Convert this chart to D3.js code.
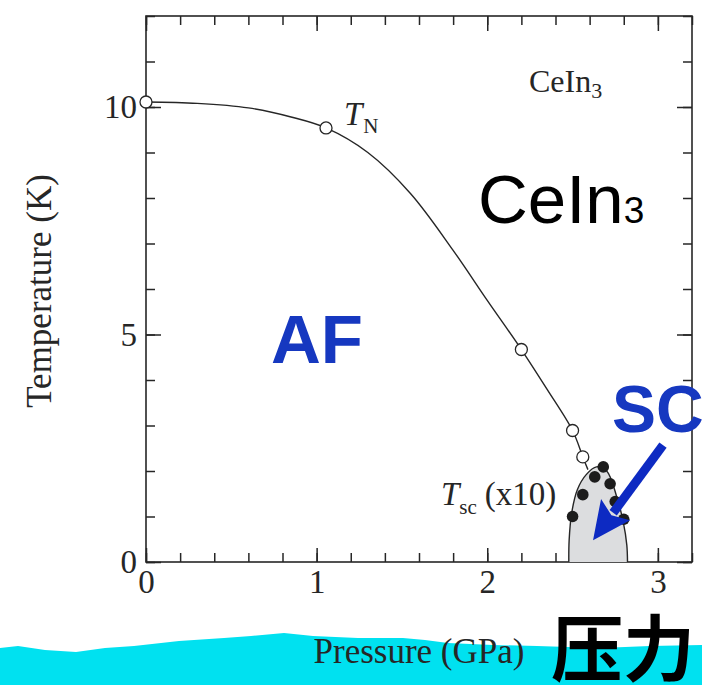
<!DOCTYPE html>
<html>
<head>
<meta charset="utf-8">
<script src="https://cdn.jsdelivr.net/npm/d3@7"></script>
<style>
  html, body { margin: 0; padding: 0; background: #fff; }
  svg { display: block; }
</style>
</head>
<body>
<svg id="chart" width="702" height="685"></svg>
<script>
// ---------- data ----------
const pressureTN = [0, 1.055, 2.2, 2.5, 2.56];          // GPa, open circles
const tempTN     = [10.11, 9.54, 4.67, 2.89, 2.31];     // K
const curveP     = [0, 0.3, 0.6, 0.85, 1.055, 1.3, 1.55, 1.8, 2.0, 2.2, 2.35, 2.5, 2.56, 2.59];
const curveT     = [10.11, 10.08, 9.98, 9.78, 9.54, 9.0, 8.1, 6.85, 5.75, 4.67, 3.8, 2.89, 2.31, 2.03];
const pressureSC = [2.50, 2.56, 2.63, 2.68, 2.72, 2.75, 2.80];   // filled dots
const tempSC     = [1.00, 1.48, 1.87, 2.09, 1.72, 1.33, 0.94];   // Tsc x10 (K)
const domeP      = [2.478, 2.48, 2.495, 2.528, 2.58, 2.64, 2.70, 2.76, 2.797, 2.818, 2.822];
const domeT      = [0, 0.48, 1.08, 1.59, 1.92, 2.09, 2.0, 1.42, 0.88, 0.37, 0];
const xMajorTicks = [0, 1, 2, 3];
const yMajorTicks = [0, 5, 10];
const xMinorTicks = d3.range(0, 3.21, 0.2);
const yMinorTicks = d3.range(0, 12.1, 1);
// decorative brush band top edge (pixels)
const bandEdge = [[0,648],[18,646],[45,650],[76,652],[105,648],[134,646],[179,641],[224,638],[251,636],[284,633],[313,636],[358,638],[403,638],[425,640],[448,643],[493,645],[537,646],[600,648],[650,646],[702,645]];

// ---------- layout ----------
const svg = d3.select("#chart");
const x = d3.scaleLinear().domain([0, 3.2]).range([146, 692]);
const y = d3.scaleLinear().domain([0, 12]).range([562, 16]);
const ink = "#262626";
const serif = "'Liberation Serif', 'Times New Roman', serif";
const sans = "'Liberation Sans', Arial, Helvetica, sans-serif";
const blue = "#1638c0";

// cyan band
svg.append("path")
  .attr("d", "M0,685 L" + bandEdge.map(p => p.join(",")).join(" L") + " L702,685 Z")
  .attr("fill", "#00e1f0");

// axes helper
function styleAxis(g) {
  g.select(".domain").remove();
  g.selectAll("line").attr("stroke", ink).attr("stroke-width", 1.5);
}
// bottom
svg.append("g").attr("transform", "translate(0,562)")
  .call(d3.axisBottom(x).tickValues(xMinorTicks).tickSize(-9).tickFormat(""))
  .call(styleAxis);
svg.append("g").attr("transform", "translate(0,562)")
  .call(d3.axisBottom(x).tickValues(xMajorTicks).tickSize(-14).tickPadding(8).tickFormat(d3.format("d")))
  .call(styleAxis)
  .call(g => g.selectAll("text").attr("font-family", serif).attr("font-size", 33).attr("fill", ink));
// top
svg.append("g").attr("transform", "translate(0,16)")
  .call(d3.axisTop(x).tickValues(xMinorTicks).tickSize(-9).tickFormat(""))
  .call(styleAxis);
svg.append("g").attr("transform", "translate(0,16)")
  .call(d3.axisTop(x).tickValues(xMajorTicks).tickSize(-15).tickFormat(""))
  .call(styleAxis);
// left
svg.append("g").attr("transform", "translate(146,0)")
  .call(d3.axisLeft(y).tickValues(yMinorTicks).tickSize(-9).tickFormat(""))
  .call(styleAxis);
svg.append("g").attr("transform", "translate(146,0)")
  .call(d3.axisLeft(y).tickValues(yMajorTicks).tickSize(-15).tickPadding(9).tickFormat(d3.format("d")))
  .call(styleAxis)
  .call(g => g.selectAll("text").attr("font-family", serif).attr("font-size", 33).attr("fill", ink));
// right
svg.append("g").attr("transform", "translate(692,0)")
  .call(d3.axisRight(y).tickValues(yMinorTicks).tickSize(-9).tickFormat(""))
  .call(styleAxis);
svg.append("g").attr("transform", "translate(692,0)")
  .call(d3.axisRight(y).tickValues(yMajorTicks).tickSize(-15).tickFormat(""))
  .call(styleAxis);

// frame
svg.append("rect")
  .attr("x", x(0)).attr("y", y(12))
  .attr("width", x(3.2) - x(0)).attr("height", y(0) - y(12))
  .attr("fill", "none").attr("stroke", ink).attr("stroke-width", 1.6);

// axis titles
svg.append("text")
  .attr("transform", "translate(51," + ((y(0) + y(12)) / 2 + 2) + ") rotate(-90)")
  .attr("text-anchor", "middle")
  .attr("font-family", serif).attr("font-size", 35).attr("fill", ink)
  .text("Temperature (K)");
svg.append("text")
  .attr("x", 419).attr("y", 663)
  .attr("text-anchor", "middle")
  .attr("font-family", serif).attr("font-size", 35).attr("fill", ink)
  .text("Pressure (GPa)");

// SC dome
const domePts = domeP.map((p, i) => [p, domeT[i]]);
svg.append("path")
  .datum(domePts)
  .attr("d", d3.line().x(d => x(d[0])).y(d => y(d[1])).curve(d3.curveCatmullRom.alpha(0.5)))
  .attr("fill", "#dcdddf").attr("stroke", ink).attr("stroke-width", 1.4);

// TN line
const curvePts = curveP.map((p, i) => [p, curveT[i]]);
svg.append("path")
  .datum(curvePts)
  .attr("d", d3.line().x(d => x(d[0])).y(d => y(d[1])).curve(d3.curveCatmullRom.alpha(0.5)))
  .attr("fill", "none").attr("stroke", ink).attr("stroke-width", 1.4);

// TN open circles
svg.append("g").selectAll("circle")
  .data(pressureTN.map((p, i) => [p, tempTN[i]]))
  .join("circle")
  .attr("cx", d => x(d[0])).attr("cy", d => y(d[1])).attr("r", 6)
  .attr("fill", "#fff").attr("stroke", ink).attr("stroke-width", 1.3);

// Tsc filled dots
svg.append("g").selectAll("circle")
  .data(pressureSC.map((p, i) => [p, tempSC[i]]))
  .join("circle")
  .attr("cx", d => x(d[0])).attr("cy", d => y(d[1])).attr("r", 5.8)
  .attr("fill", "#1c1c1c");

// labels
const tn = svg.append("text").attr("x", 344).attr("y", 125)
  .attr("font-family", serif).attr("font-size", 33).attr("fill", ink);
tn.append("tspan").attr("font-style", "italic").text("T");
tn.append("tspan").attr("font-size", 21).attr("dy", 8).attr("dx", 1).text("N");

const ts = svg.append("text").attr("x", 441).attr("y", 505)
  .attr("font-family", serif).attr("font-size", 33).attr("fill", ink);
ts.append("tspan").attr("font-style", "italic").text("T");
ts.append("tspan").attr("font-size", 21).attr("dy", 9).attr("dx", 0).text("sc");
ts.append("tspan").attr("dy", -9).attr("dx", 8).text("(x10)");

const ce = svg.append("text").attr("x", 529).attr("y", 92)
  .attr("font-family", serif).attr("font-size", 32).attr("fill", ink);
ce.append("tspan").text("CeIn");
ce.append("tspan").attr("font-size", 22).attr("dy", 6).text("3");

const ceBig = svg.append("text").attr("x", 478).attr("y", 223)
  .attr("font-family", sans).attr("font-size", 69).attr("fill", "#000");
ceBig.append("tspan").text("CeIn");
ceBig.append("tspan").attr("font-size", 37).text("3");

svg.append("text").attr("x", 271).attr("y", 363)
  .attr("font-family", sans).attr("font-weight", "bold").attr("font-size", 69)
  .attr("fill", blue).text("AF");

// arrow
const aFrom = [x(3.03), y(2.57)], aTo = [x(2.62), y(0.48)];
const dx = aTo[0] - aFrom[0], dy = aTo[1] - aFrom[1];
const len = Math.hypot(dx, dy), ux = dx / len, uy = dy / len;
const headL = 38, headW = 18;
const base = [aTo[0] - ux * headL, aTo[1] - uy * headL];
svg.append("line")
  .attr("x1", aFrom[0]).attr("y1", aFrom[1]).attr("x2", base[0] + ux * 4).attr("y2", base[1] + uy * 4)
  .attr("stroke", "#0d2ac2").attr("stroke-width", 9);
svg.append("polygon")
  .attr("points", [
    aTo,
    [base[0] - uy * headW, base[1] + ux * headW],
    [base[0] + ux * 7, base[1] + uy * 7],
    [base[0] + uy * headW, base[1] - ux * headW]
  ].map(p => p.join(",")).join(" "))
  .attr("fill", "#0d2ac2");

svg.append("text").attr("x", 612).attr("y", 432)
  .attr("font-family", sans).attr("font-weight", "bold").attr("font-size", 66)
  .attr("fill", blue).text("SC");

// 压力
svg.append("text").attr("x", 551).attr("y", 675)
  .attr("font-family", "'Noto Sans CJK SC', 'Noto Sans CJK JP', sans-serif")
  .attr("font-weight", "bold").attr("font-size", 72).attr("fill", "#000")
  .text("压力");
</script>
</body>
</html>
